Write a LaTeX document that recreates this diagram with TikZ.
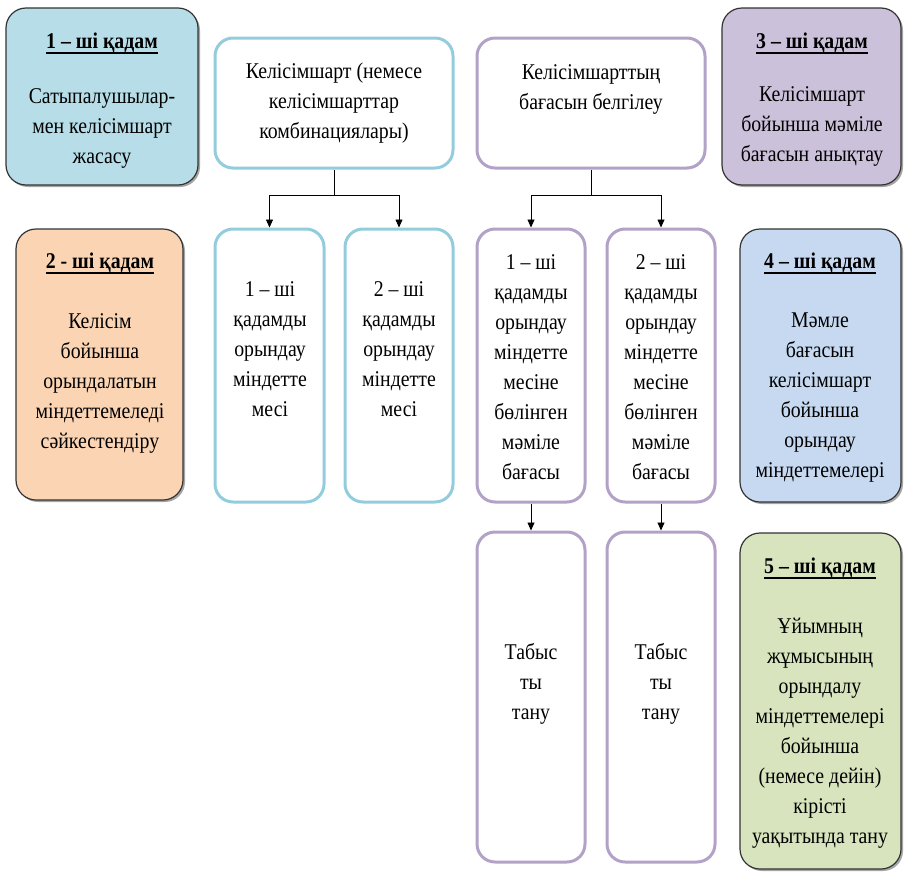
\documentclass[tikz,border=0pt]{standalone}
\usepackage{fontspec}
\setmainfont{Liberation Serif}[FakeStretch=0.88]
\usetikzlibrary{fit,shadows,arrows.meta}
\definecolor{sone}{HTML}{B7DEE8}
\definecolor{stwo}{HTML}{FBD4B4}
\definecolor{sthree}{HTML}{CCC1DA}
\definecolor{sfour}{HTML}{C6D9F1}
\definecolor{sfive}{HTML}{D7E4BD}
\definecolor{bluel}{HTML}{93CDDD}
\definecolor{purpl}{HTML}{B3A2C7}
\newcommand{\hdline}[1]{\leavevmode\setbox0=\hbox{\bfseries #1}\rlap{\copy0}\raisebox{-5.5pt}{\rule{\wd0}{1.8pt}}}
\tikzset{
  stepbox/.style={draw=black!80, line width=1.2pt, rounded corners=20pt, inner sep=0pt,
    drop shadow={shadow xshift=2pt, shadow yshift=-2pt, opacity=0.5, fill=black!70}},
  bluebox/.style={draw=bluel, line width=3pt, rounded corners=18pt, inner sep=0pt, fill=white},
  purbox/.style={draw=purpl, line width=3pt, rounded corners=18pt, inner sep=0pt, fill=white},
  txt/.style={align=center, inner sep=0pt, font=\fontsize{22.5}{30}\selectfont},
  hd/.style={align=center, inner sep=0pt, font=\fontsize{22.5}{30}\selectfont},
  arr/.style={-{Triangle[width=7pt,length=8pt]}, line width=0.8pt, black},
  ln/.style={line width=0.8pt, black}
}
\begin{document}
\begin{tikzpicture}[x=1pt,y=-1pt]
\useasboundingbox (0,0) rectangle (906,873);
% step boxes
\node[stepbox, fill=sone, fit={(6,8) (198,185)}] (s1) {};
\node[stepbox, fill=stwo, fit={(16,229) (183,500)}] (s2) {};
\node[stepbox, fill=sthree, fit={(722,8) (901,185)}] (s3) {};
\node[stepbox, fill=sfour, fit={(740,229) (901,502)}] (s4) {};
\node[stepbox, fill=sfive, fit={(740,533) (901,869)}] (s5) {};
% white boxes
\node[bluebox, fit={(215,38) (453,168)}] (c) {};
\node[purbox, fit={(477,38) (705,168)}] (pr) {};
\node[bluebox, fit={(215,229) (324,502)}] (b1) {};
\node[bluebox, fit={(345,229) (453,502)}] (b2) {};
\node[purbox, fit={(477,229) (585,502)}] (p1) {};
\node[purbox, fit={(607,229) (715,502)}] (p2) {};
\node[purbox, fit={(477,532) (585,862)}] (p3) {};
\node[purbox, fit={(607,532) (715,862)}] (p4) {};
% texts
\node[hd] (s1h) at (102,43) {\hdline{1 – ші қадам}};
\node[txt] (s1t) at (102,128) {Сатыпалушылар-\\мен келісімшарт\\жасасу};
\node[hd] (s2h) at (100,263) {\hdline{2 - ші қадам}};
\node[txt] (s2t) at (100,383) {Келісім\\бойынша\\орындалатын\\міндеттемеледі\\сәйкестендіру};
\node[hd] (s3h) at (812,43) {\hdline{3 – ші қадам}};
\node[txt] (s3t) at (812,126) {Келісімшарт\\бойынша мәміле\\бағасын анықтау};
\node[hd] (s4h) at (820,263) {\hdline{4 – ші қадам}};
\node[txt] (s4t) at (820,398) {Мәмле\\бағасын\\келісімшарт\\бойынша\\орындау\\міндеттемелері};
\node[hd] (s5h) at (820,568) {\hdline{5 – ші қадам}};
\node[txt] (s5t) at (820,733) {Ұйымның\\жұмысының\\орындалу\\міндеттемелері\\бойынша\\(немесе дейін)\\кірісті\\уақытында тану};
\node[txt] (ct) at (334,103) {Келісімшарт (немесе\\келісімшарттар\\комбинациялары)};
\node[txt] (prt) at (591,89) {Келісімшарттың\\бағасын белгілеу};
\node[txt] (b1t) at (270,349) {1 – ші\\қадамды\\орындау\\міндетте\\месі};
\node[txt] (b2t) at (399,349) {2 – ші\\қадамды\\орындау\\міндетте\\месі};
\node[txt] (p1t) at (531,367) {1 – ші\\қадамды\\орындау\\міндетте\\месіне\\бөлінген\\мәміле\\бағасы};
\node[txt] (p2t) at (661,367) {2 – ші\\қадамды\\орындау\\міндетте\\месіне\\бөлінген\\мәміле\\бағасы};
\node[txt] (p3t) at (531,684) {Табыс\\ты\\тану};
\node[txt] (p4t) at (661,684) {Табыс\\ты\\тану};
% connectors
\coordinate (cj) at (334,195);
\coordinate (pj) at (591,195);
\draw[ln] (c.south) -- (cj);
\draw[arr] (cj) -| (b1.north);
\draw[arr] (cj) -| (b2.north);
\draw[ln] (pr.south) -- (pj);
\draw[arr] (pj) -| (p1.north);
\draw[arr] (pj) -| (p2.north);
\draw[arr] (p1.south) -- (p3.north);
\draw[arr] (p2.south) -- (p4.north);
\end{tikzpicture}
\end{document}
